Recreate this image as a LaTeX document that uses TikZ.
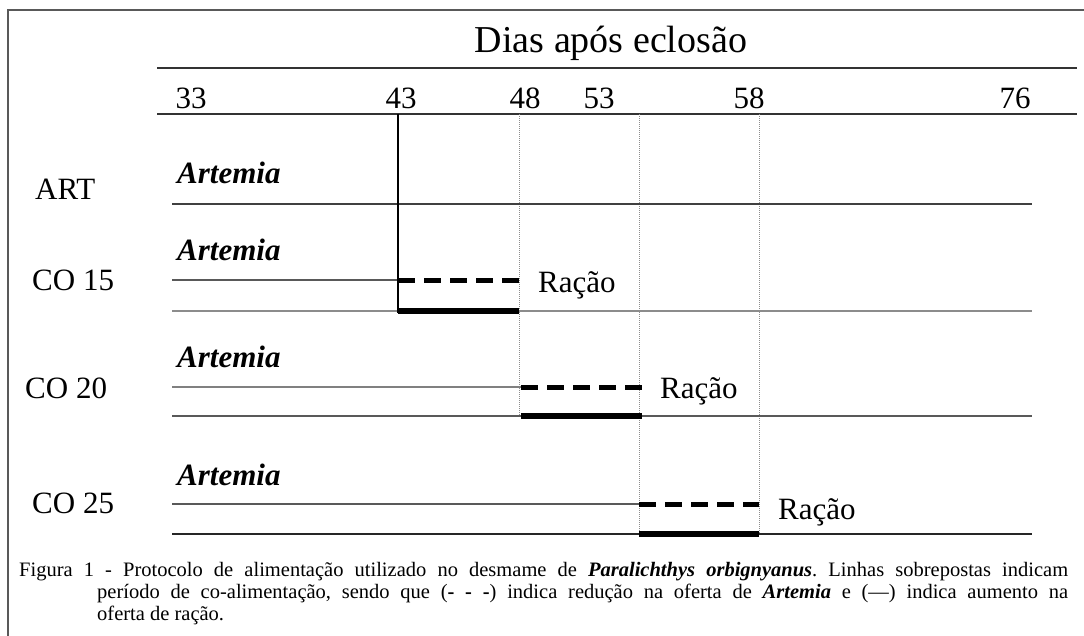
\documentclass[tikz,border=0pt]{standalone}
\usepackage{fontspec}
\setmainfont{Liberation Serif}
\frenchspacing
\begin{document}
\begin{tikzpicture}[x=1pt,y=-1pt,
  lbl/.style={inner sep=0pt,font=\fontsize{31}{36}\selectfont},
  art/.style={inner sep=0pt,anchor=base west,font=\fontsize{31}{36}\selectfont\bfseries\itshape},
  thinline/.style={draw=black!65,line width=1.5pt},
  axisline/.style={draw=black!80,line width=2.5pt},
  dashbar/.style={draw=black,line width=5pt,dash pattern=on 17pt off 9pt},
  solidbar/.style={draw=black,line width=6pt},
  guide/.style={draw=black!45,line width=0.7pt,dash pattern=on 1pt off 1pt},
  frameline/.style={draw=black!65,line width=2.5pt}]
\useasboundingbox (0,0) rectangle (1084,635);
% frame
\draw[frameline] (8,640) -- (8,10) -- (1090,10);
% title and axis
\node[lbl,anchor=base,font=\fontsize{38}{44}\selectfont] (title) at (611,52) {Dias após eclosão};
\draw[axisline] (157,68) -- (1077,68);
\draw[axisline] (157,114) -- (1077,114);
\node[lbl,anchor=base] (d33) at (191,108) {33};
\node[lbl,anchor=base] (d43) at (401,108) {43};
\node[lbl,anchor=base] (d48) at (525,108) {48};
\node[lbl,anchor=base] (d53) at (599,108) {53};
\node[lbl,anchor=base] (d58) at (749,108) {58};
\node[lbl,anchor=base] (d76) at (1015,108) {76};
% guides
\draw[guide] (519,114) -- (519,416);
\draw[guide] (639,114) -- (639,534);
\draw[guide] (759,114) -- (759,534);
% row labels
\node[lbl,anchor=base west] (lart) at (35,199) {ART};
\node[lbl,anchor=base west] (l15) at (32,290) {CO 15};
\node[lbl,anchor=base west] (l20) at (25,398) {CO 20};
\node[lbl,anchor=base west] (l25) at (32,513) {CO 25};
\node[art] (a1) at (177,183) {Artemia};
\node[art] (a2) at (177,260) {Artemia};
\node[art] (a3) at (177,367) {Artemia};
\node[art] (a4) at (177,485) {Artemia};
% ART
\draw[thinline,draw=black!75] (172,204) -- (1032,204);
% CO 15
\draw[thinline] (172,280) -- (398,280);
\draw[dashbar] (398,280) -- (519,280);
\draw[thinline,draw=black!45] (172,311) -- (1032,311);
\draw[solidbar] (398,311) -- (519,311);
\node[lbl,anchor=base west] (r15) at (538,292) {Ração};
% CO 20
\draw[thinline,draw=black!50] (172,387) -- (521,387);
\draw[dashbar] (521,387) -- (642,387);
\draw[thinline] (172,416) -- (1032,416);
\draw[solidbar] (521,416) -- (642,416);
\node[lbl,anchor=base west] (r20) at (660,398) {Ração};
% CO 25
\draw[thinline] (172,504) -- (639,504);
\draw[dashbar] (639,504) -- (759,504);
\draw[thinline,draw=black!85] (172,534) -- (1032,534);
\draw[solidbar] (639,534) -- (759,534);
\node[lbl,anchor=base west] (r25) at (778,519) {Ração};
% vertical start line
\draw[black,line width=1.5pt] (398,114) -- (398,313);
% caption
\node[anchor=north west,inner sep=0pt,text width=1049pt,align=justify,
  font=\fontsize{20.5}{22}\selectfont] (cap) at (19,562)
  {\leavevmode\hangindent=78pt\hangafter=1 Figura 1 - Protocolo de alimentação utilizado no desmame de \textbf{\textit{Paralichthys orbignyanus}}. Linhas sobrepostas indicam\linebreak período de co-alimentação, sendo que (\textbf{-~-~-}) indica redução na oferta de \textbf{\textit{Artemia}} e (---) indica aumento na\linebreak oferta de ração.\par};
\end{tikzpicture}
\end{document}
